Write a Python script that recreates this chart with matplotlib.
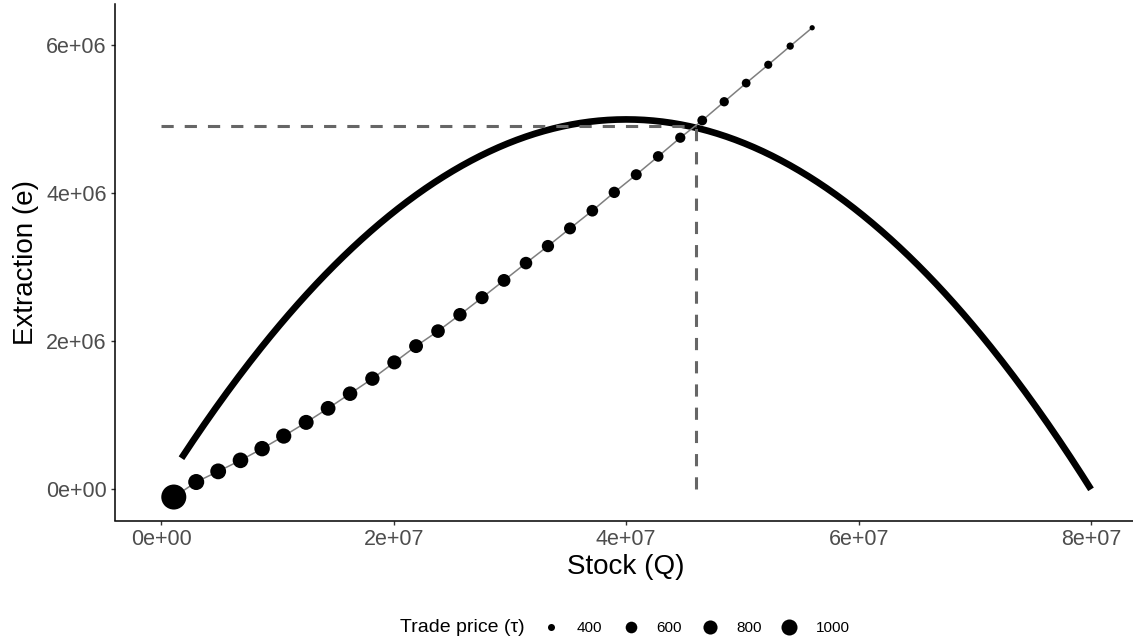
import numpy as np
import matplotlib.pyplot as plt
from matplotlib.lines import Line2D

plt.rcParams["font.family"] = ["Liberation Sans", "DejaVu Sans"]

# price path: stock and extraction reached at each trade price
stock = [
    1.06e6, 2.99e6, 4.88e6, 6.80e6, 8.66e6, 10.52e6, 12.45e6, 14.34e6,
    16.23e6, 18.15e6, 20.04e6, 21.91e6, 23.80e6, 25.69e6, 27.59e6, 29.48e6,
    31.37e6, 33.26e6, 35.16e6, 37.08e6, 38.97e6, 40.86e6, 42.75e6, 44.65e6,
    46.54e6, 48.43e6, 50.32e6, 52.22e6, 54.11e6, 56.00e6,
]
extraction = [
    -0.104e6, 0.099e6, 0.243e6, 0.392e6, 0.550e6, 0.720e6, 0.905e6, 1.095e6,
    1.293e6, 1.496e6, 1.716e6, 1.936e6, 2.139e6, 2.361e6, 2.591e6, 2.824e6,
    3.058e6, 3.288e6, 3.527e6, 3.766e6, 4.014e6, 4.253e6, 4.500e6, 4.753e6,
    4.986e6, 5.239e6, 5.491e6, 5.739e6, 5.991e6, 6.239e6,
]
trade_price = [
    2460, 1000, 978, 956, 934, 912, 890, 868, 846, 824, 802, 780, 758, 736,
    714, 692, 670, 648, 626, 604, 582, 560, 538, 516, 494, 472, 450, 428,
    406, 384,
]

# logistic growth of the stock
growth_rate = 0.25
carrying_capacity = 8.0e7
curve_start = 1.72e6

# steady state where the price path crosses the growth curve
eq_stock = 4.60e7
eq_extraction = 4.905e6

legend_prices = [400, 600, 800, 1000]
x_ticks = [0, 2e7, 4e7, 6e7, 8e7]
y_ticks = [0, 2e6, 4e6, 6e6]

W, H = 1133, 642


def marker_diameter(price, lo, hi):
    """ggplot-style area scale: size 1..6 mm, returned as a diameter in points."""
    size = 1 + 5 * np.sqrt((np.asarray(price, float) - lo) / (hi - lo))
    return size * 72.27 / 25.4 + 0.945


def expanded(lo, hi, frac=0.05):
    pad = (hi - lo) * frac
    return lo - pad, hi + pad


fig = plt.figure(figsize=(W / 100, H / 100), dpi=100)
ax = fig.add_axes([115 / W, 1 - 520.5 / H, (1137.5 - 115) / W, (520.5 - 4.3) / H])

q = np.linspace(curve_start, carrying_capacity, 400)
growth = growth_rate * q * (1 - q / carrying_capacity)
ax.plot(q, growth, color="black", lw=4.8, solid_capstyle="butt", zorder=2)

dash = dict(color="#666666", lw=2.2, dashes=(4, 3.6), zorder=3)
ax.plot([0, eq_stock], [eq_extraction, eq_extraction], **dash)
ax.plot([eq_stock, eq_stock], [0, eq_extraction], **dash)

ax.plot(stock, extraction, color="#7f7f7f", lw=1.1, zorder=4)
lo, hi = min(trade_price), max(trade_price)
diam = marker_diameter(trade_price, lo, hi)
ax.scatter(stock, extraction, s=diam ** 2, color="black", linewidths=0, zorder=5)

ax.set_xlim(*expanded(0, carrying_capacity))
ax.set_ylim(*expanded(min(extraction), max(extraction)))
ax.set_xticks(x_ticks)
ax.set_yticks(y_ticks)
ax.set_xticklabels([f"{v:.0e}" for v in x_ticks])
ax.set_yticklabels([f"{v:.0e}" for v in y_ticks])

for side in ("top", "right"):
    ax.spines[side].set_visible(False)
for side in ("left", "bottom"):
    ax.spines[side].set_linewidth(1.1)
    ax.spines[side].set_color("black")
ax.tick_params(length=3, width=1.0, color="#333333", labelcolor="#4d4d4d",
               labelsize=15.5, pad=3)

ax.set_xlabel("Stock (Q)", fontsize=20, labelpad=3)
ax.set_ylabel("Extraction (e)", fontsize=20, labelpad=5)

# horizontal legend under the panel, title to the left of the keys
legend_y = 1 - 628 / H
fig.text(525 / W, legend_y, "Trade price (τ)", ha="right", va="center", fontsize=14)
handles = [
    Line2D([], [], ls="none", marker="o", color="black", markeredgewidth=0,
           markersize=d)
    for d in marker_diameter(legend_prices, lo, hi)
]
fig.legend(handles, [str(p) for p in legend_prices], loc="center left",
           bbox_to_anchor=(543.5 / W, legend_y), ncol=4, frameon=False,
           fontsize=11, handlelength=1.0, handletextpad=1.2,
           columnspacing=1.33, borderpad=0, borderaxespad=0)

fig.savefig("out.png", dpi=100)
